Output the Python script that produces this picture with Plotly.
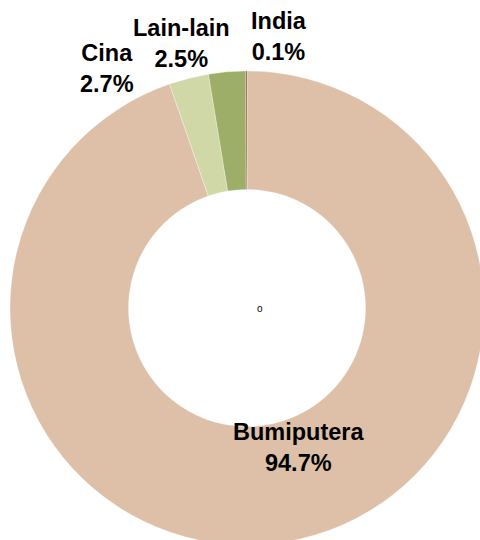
import plotly.graph_objects as go

# data
kaum = ['Bumiputera', 'Cina', 'Lain-lain', 'India']
peratus = [94.7, 2.7, 2.5, 0.1]
warna = ['#DDC0A7', '#D1D8A7', '#9CAE68', '#8B5E3C']

# where each label sits (pixels on the 484x545 canvas)
label_px = {'Bumiputera': (299, 447), 'Cina': (107, 69), 'Lain-lain': (181, 43), 'India': (279, 36)}

W, H = 484, 545

fig = go.Figure(go.Pie(
    labels=kaum, values=peratus, sort=False, direction='clockwise', rotation=0,
    hole=0.5, marker=dict(colors=warna, line=dict(color='white', width=0.3)),
    textinfo='none', hoverinfo='label+percent', showlegend=False,
    domain=dict(x=[10 / W, 1], y=[0, 1 - 71 / H]),
))

for k, p in zip(kaum, peratus):
    px_, py_ = label_px[k]
    fig.add_annotation(x=px_ / W, y=1 - py_ / H, xref='paper', yref='paper',
                       xanchor='center', yanchor='middle',
                       text=f'<b>{k}<br>{p:.1f}%</b>', showarrow=False,
                       font=dict(family='Liberation Sans, Arial', size=23.5, color='black'))

# tiny marker in the middle of the ring
fig.add_annotation(x=260 / W, y=1 - 308 / H, xref='paper', yref='paper', text='o',
                   xanchor='center', yanchor='middle',
                   showarrow=False, font=dict(family='Liberation Sans, Arial', size=10, color='black'))

fig.update_layout(width=W, height=H, margin=dict(l=0, r=0, t=0, b=0),
                  paper_bgcolor='white', plot_bgcolor='white')

fig.write_html('out.html', config={'displayModeBar': False},
               post_script="document.body.style.margin='0';document.body.style.overflow='hidden';")
